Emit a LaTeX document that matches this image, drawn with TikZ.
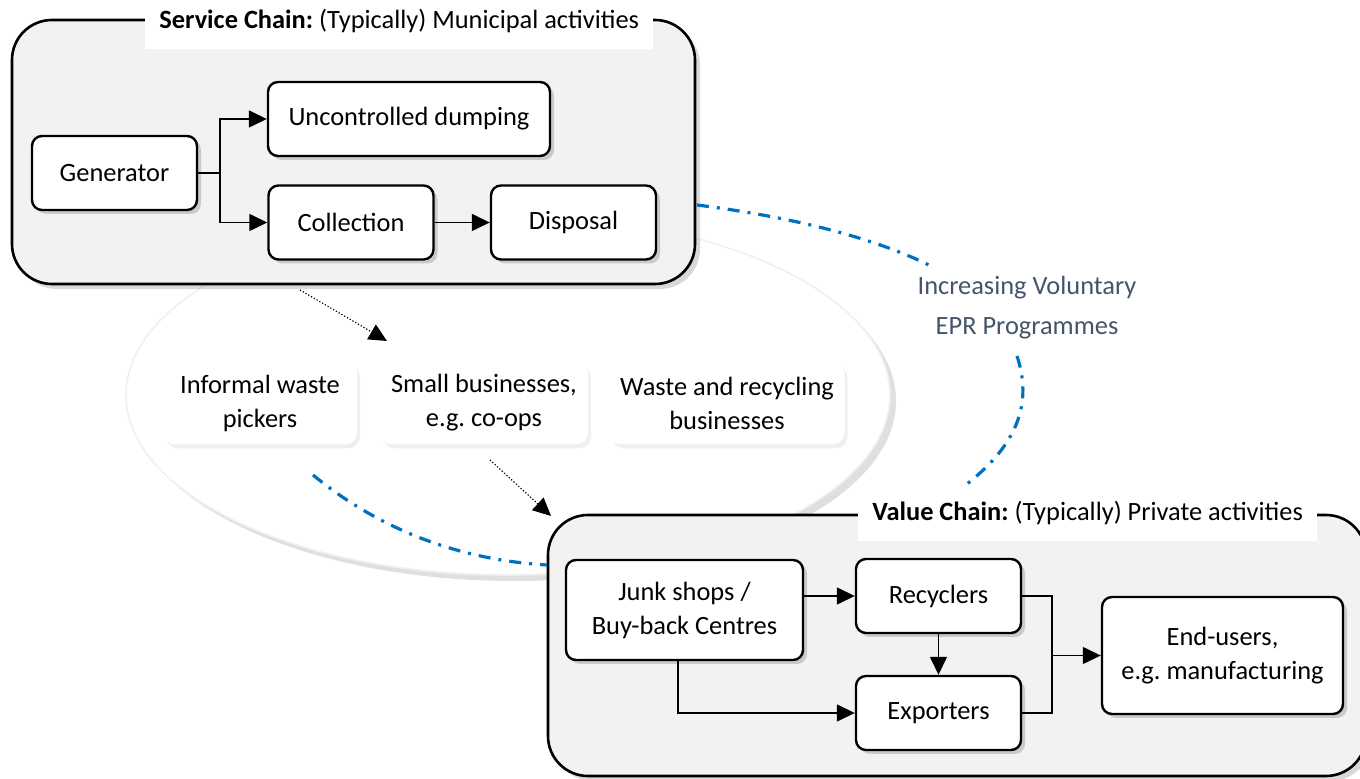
\documentclass[tikz,border=0pt]{standalone}
\usepackage{fontspec}
\setmainfont{Carlito}
\frenchspacing
\usetikzlibrary{calc, positioning}
\usetikzlibrary{arrows.meta, shadows}
\definecolor{eprblue}{HTML}{0070C0}
\definecolor{eprgrey}{HTML}{44546A}
\tikzset{
  font=\fontsize{13.2}{17}\selectfont,
  % Set arrowhead
  >={Triangle[length=9pt, width=8.5pt]},
  % Chain box (service / value)
  chain/.style={draw, line width=1.3pt, rounded corners=20pt, fill=black!5,
    drop shadow={shadow xshift=2.5pt, shadow yshift=-2.5pt, opacity=0.3}},
  % Chain title
  chainlabel/.style={fill=white, inner xsep=7pt, inner ysep=8pt, anchor=west},
  % Process node
  pnode/.style={draw, line width=1.2pt, rounded corners=5pt, fill=white,
    align=center, minimum width=82.5pt, minimum height=37pt,
    drop shadow={shadow xshift=2pt, shadow yshift=-2pt, opacity=0.35}},
  % Actor node (no border)
  anode/.style={rounded corners=6pt, fill=white, align=center,
    minimum height=41.5pt,
    drop shadow={shadow xshift=1.5pt, shadow yshift=-2pt, opacity=0.12}},
  % Arrows
  flow/.style={->, line width=0.7pt},
  iflow/.style={->, densely dotted, line width=0.6pt},
  % Voluntary EPR curve
  epr/.style={eprblue, line width=1.6pt,
    dash pattern=on 6pt off 4pt on 1.5pt off 4pt},
}

\begin{document}
\begin{tikzpicture}[x=0.5pt, y=-0.5pt]
  \useasboundingbox (0,0) rectangle (1360,779);

  % informal sector
  \draw[fill=white, draw=black!6, line width=0.8pt,
    drop shadow={shadow xshift=3pt, shadow yshift=-3pt, opacity=0.25}]
  (508,395) ellipse [x radius=191pt, y radius=90pt];

  % service chain
  \node[chain, minimum width=341.5pt, minimum height=132pt] (sc) at (353.5,152) {};
  \node[chainlabel] (sclabel) at (145,21)
  {\textbf{Service Chain:} (Typically) Municipal activities};

  \node[pnode] (gen) at (114.5,173) {Generator};
  \node[pnode, minimum width=141pt] (unc) at (409,119) {Uncontrolled dumping};
  \node[pnode] (col) at (351,222.5) {Collection};
  \node[pnode] (dis) at (573.5,222.5) {Disposal};
  \coordinate (fork) at (220,173);

  \draw[line width=0.7pt] (gen) -- (fork);
  \draw[flow] (fork) |- (unc.west);
  \draw[flow] (fork) |- (col.west);
  \draw[flow] (col) -- (dis);

  % value chain
  \node[chain, minimum width=409pt, minimum height=130.5pt] (vc) at (957,645.5) {};
  \node[chainlabel] (vclabel) at (858,513)
  {\textbf{Value Chain:} (Typically) Private activities};

  \node[pnode, minimum width=118.5pt, minimum height=50pt] (junk) at (684.5,610)
  {Junk shops /\\Buy-back Centres};
  \node[pnode] (rec) at (938.5,596) {Recyclers};
  \node[pnode] (exp) at (938.5,713) {Exporters};
  \node[pnode, minimum width=120.5pt, minimum height=58.5pt] (end) at (1222.5,655.5)
  {End-users,\\e.g. manufacturing};
  \coordinate (join) at (1052,655.5);

  \draw[flow] (junk.east |- rec.west) -- (rec.west);
  \draw[flow] (junk.south -| 678,0) |- (exp.west);
  \draw[flow] (rec) -- (exp);
  \draw[line width=0.7pt] (rec.east) -| (join);
  \draw[line width=0.7pt] (exp.east) -| (join);
  \draw[flow] (join) -- (end.west);

  % actors
  \node[anode, minimum width=97pt] (pick) at (260,403) {Informal waste\\pickers};
  \node[anode, minimum width=104pt] (small) at (484,403) {Small businesses,\\e.g. co-ops};
  \node[anode, minimum width=117.5pt] (wrb) at (727,403) {Waste and recycling\\businesses};

  \coordinate (d1) at (300,290);
  \coordinate (d2) at (387,341);
  \coordinate (d3) at (490,460);
  \coordinate (d4) at (551,516);
  \draw[iflow] (d1) -- (d2);
  \draw[iflow] (d3) -- (d4);

  % voluntary EPR
  \node[eprgrey, align=center, font=\fontsize{13.2}{20}\selectfont] (eprlbl)
  at (1027,308) {Increasing Voluntary\\EPR Programmes};
  \coordinate (e1) at (697,205);
  \coordinate (e2) at (935,268);
  \coordinate (e3) at (1017,356);
  \coordinate (e4) at (967,484);
  \coordinate (e5) at (313,475);
  \coordinate (e6) at (547,565);
  \draw[epr] (e1) .. controls (800,218) and (880,240) .. (e2);
  \draw[epr] (e3) .. controls (1035,410) and (1010,450) .. (e4);
  \draw[epr] (e5) .. controls (380,530) and (460,560) .. (e6);

\end{tikzpicture}
\end{document}
